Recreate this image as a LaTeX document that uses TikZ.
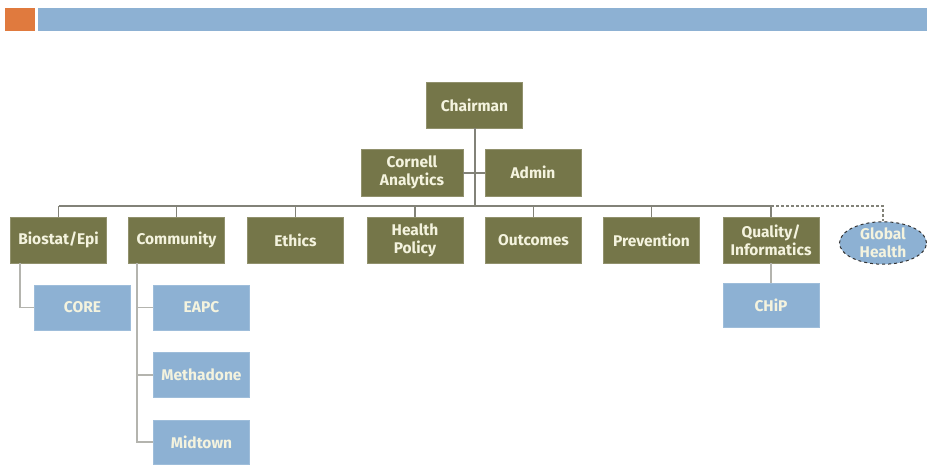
\documentclass[tikz,border=0pt]{standalone}
\usepackage{fontspec}
\setmainfont{Fira Sans}
\usepackage{tikz}
\usetikzlibrary{shapes.geometric}

\definecolor{olivebox}{RGB}{117,118,73}
\definecolor{bluebox}{RGB}{141,177,211}
\definecolor{barorange}{RGB}{224,122,62}
\definecolor{linkgray}{RGB}{130,130,120}
\definecolor{cream}{RGB}{244,243,222}

\tikzset{
  unit/.style={fill=olivebox,draw=olivebox!80!white,text=cream,align=center,
    font=\fontsize{15.5}{18}\selectfont\bfseries,inner sep=0pt,
    minimum width=96pt,minimum height=46pt},
  subunit/.style={unit,fill=bluebox,draw=bluebox!85!white,minimum height=45pt},
  link/.style={draw=linkgray,line width=2pt},
  sublink/.style={draw=linkgray!60,line width=1.6pt}
}

\begin{document}
\begin{tikzpicture}[x=1pt,y=-1pt]
  \useasboundingbox (0,0) rectangle (927,464);

  % top bars
  \fill[barorange] (5,8) rectangle (35,31);
  \fill[bluebox] (38,8) rectangle (927,31);

  \node[unit] (chair) at (474.5,105) {Chairman};
  \node[unit,minimum width=102pt,minimum height=47pt] (corn) at (412,172.5) {Cornell\\Analytics};
  \node[unit,minimum height=47pt] (adm) at (533,172.5) {Admin};

  \node[unit] (bio) at (58.5,240) {Biostat/Epi};
  \node[unit] (com) at (176.5,240) {Community};
  \node[unit] (eth) at (295.5,240) {Ethics};
  \node[unit] (hp) at (415,240) {Health\\Policy};
  \node[unit] (outc) at (533.5,240) {Outcomes};
  \node[unit] (prev) at (651.5,240) {Prevention};
  \node[unit] (qual) at (771,240) {Quality/\\Informatics};
  \node[ellipse,fill=bluebox,draw=black!80,dashed,line width=1pt,text=cream,
    align=center,font=\fontsize{15.5}{18}\selectfont\bfseries,inner sep=0pt,
    minimum width=87pt,minimum height=41pt] (glob) at (883,243) {Global\\Health};

  \node[subunit] (core) at (82.5,307.5) {CORE};
  \node[subunit] (eapc) at (201.5,307.5) {EAPC};
  \node[subunit] (meth) at (201.5,375) {Methadone};
  \node[subunit,minimum height=44pt] (mid) at (201.5,442) {Midtown};
  \node[subunit,minimum height=44pt] (chip) at (771,305) {CHiP};

  \coordinate (bus) at (0,206);

  % connectors
  \draw[link] (chair.south) -- (chair.south |- bus);
  \draw[link] (corn.east) -- (adm.west);
  \draw[link] (bio.north |- bus) -- (qual.north |- bus);
  \foreach \n in {bio,com,eth,hp,outc,prev,qual}
    \draw[link,line width=1.2pt] (\n.north) -- (\n.north |- bus);
  \draw[link,line width=1.6pt,dash pattern=on 3pt off 2pt] (qual.north |- bus) -| (glob.north);

  \draw[sublink] ([xshift=-38.5pt]bio.south) |- (core.west);
  \foreach \n in {eapc,meth,mid}
    \draw[sublink] ([xshift=-39.5pt]com.south) |- (\n.west);
  \draw[sublink] (qual.south) -- (chip.north);
\end{tikzpicture}
\end{document}
